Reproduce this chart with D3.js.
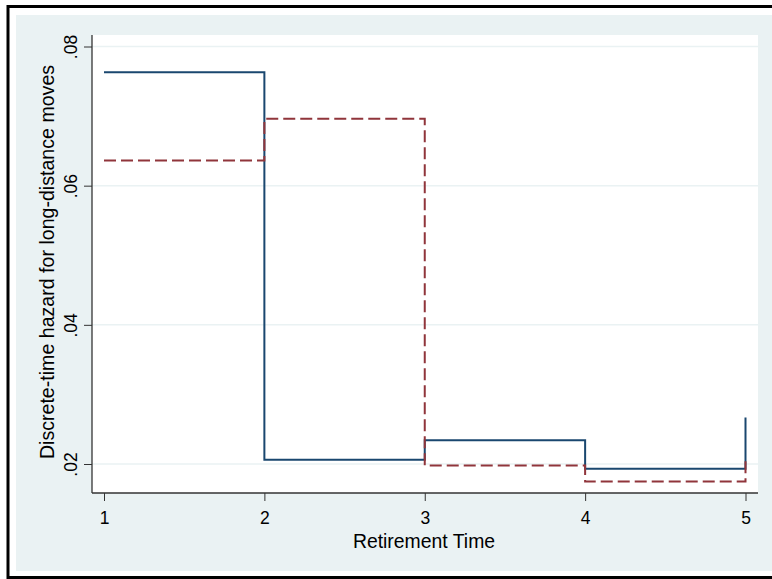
<!DOCTYPE html>
<html>
<head>
<meta charset="utf-8">
<script src="https://cdn.jsdelivr.net/npm/d3@7"></script>
<style>
  html, body { margin: 0; padding: 0; background: #ffffff; }
  svg { display: block; }
  text { font-family: "Liberation Sans", Arial, sans-serif; fill: #000; }
</style>
</head>
<body>
<svg id="chart" width="772" height="579"></svg>
<script>
// ---- data ----
const times = [1, 2, 3, 4, 5];
const seriesBlue = [0.0763, 0.0206, 0.0234, 0.0193, 0.0267];
const seriesRed  = [0.0636, 0.0696, 0.0198, 0.0175, 0.0210];
const xTicks = [1, 2, 3, 4, 5];
const yTicks = [0.02, 0.04, 0.06, 0.08];
const yTickLabels = [".02", ".04", ".06", ".08"];
const xTitle = "Retirement Time";
const yTitle = "Discrete-time hazard for long-distance moves";

const svg = d3.select("#chart");
const W = 772, H = 579;

// outer frame
svg.append("rect").attr("x", 0).attr("y", 0).attr("width", W).attr("height", H).attr("fill", "#fff");
svg.append("rect").attr("x", 16).attr("y", 15).attr("width", 800).attr("height", 556).attr("fill", "#eaf2f3");
svg.append("rect").attr("x", 8).attr("y", 6.5).attr("width", 800).attr("height", 571)
  .attr("fill", "none").attr("stroke", "#000").attr("stroke-width", 3);

// plot region
const plot = { left: 92, right: 758, top: 35, bottom: 493 };
svg.append("rect").attr("x", plot.left).attr("y", plot.top)
  .attr("width", plot.right - plot.left).attr("height", plot.bottom - plot.top).attr("fill", "#fff");

const x = d3.scaleLinear().domain([1, 5]).range([104, 745.5]);
const y = d3.scaleLinear().domain([0.02, 0.08]).range([464, 46.5]);

// grid
svg.append("g").selectAll("line").data(yTicks).join("line")
  .attr("x1", plot.left).attr("x2", plot.right)
  .attr("y1", d => y(d)).attr("y2", d => y(d))
  .attr("stroke", "#eaf2f3").attr("stroke-width", 1.5);

// axes
const yAxis = d3.axisLeft(y).tickValues(yTicks).tickSize(8).tickFormat((d, i) => yTickLabels[i]);
const gy = svg.append("g").attr("transform", `translate(${plot.left},0)`).call(yAxis);
gy.select(".domain").attr("d", `M0,${plot.top}V${plot.bottom}`).attr("stroke", "#333").attr("stroke-width", 1.3);
gy.selectAll(".tick line").attr("stroke", "#333").attr("stroke-width", 1);
gy.selectAll(".tick text")
  .attr("font-size", 17.5).attr("font-family", "Liberation Sans, Arial, sans-serif").attr("fill", "#000")
  .attr("text-anchor", "middle")
  .attr("x", null).attr("dy", null)
  .attr("transform", "translate(-15,0) rotate(-90)");

const xAxis = d3.axisBottom(x).tickValues(xTicks).tickSize(8).tickFormat(d3.format("d"));
const gx = svg.append("g").attr("transform", `translate(0,${plot.bottom})`).call(xAxis);
gx.select(".domain").attr("d", `M${plot.left},0H${plot.right}`).attr("stroke", "#333").attr("stroke-width", 1.3);
gx.selectAll(".tick line").attr("stroke", "#333").attr("stroke-width", 1);
gx.selectAll(".tick text")
  .attr("font-size", 17.5).attr("font-family", "Liberation Sans, Arial, sans-serif").attr("fill", "#000")
  .attr("y", 31).attr("dy", null);

// titles
svg.append("text").attr("x", (plot.left + plot.right) / 2 - 1).attr("y", 548)
  .attr("text-anchor", "middle").attr("font-size", 19.4).text(xTitle);
svg.append("text").attr("transform", `translate(54,${(plot.top + plot.bottom) / 2 - 2}) rotate(-90)`)
  .attr("text-anchor", "middle").attr("font-size", 19.6).text(yTitle);

// lines
const line = d3.line().x((d, i) => x(times[i])).y(d => y(d)).curve(d3.curveStepAfter);
svg.append("path").datum(seriesBlue).attr("d", line)
  .attr("fill", "none").attr("stroke", "#1a476f").attr("stroke-width", 2);
svg.append("path").datum(seriesRed).attr("d", line)
  .attr("fill", "none").attr("stroke", "#90353b").attr("stroke-width", 2)
  .attr("stroke-dasharray", "12,5");
</script>
</body>
</html>
